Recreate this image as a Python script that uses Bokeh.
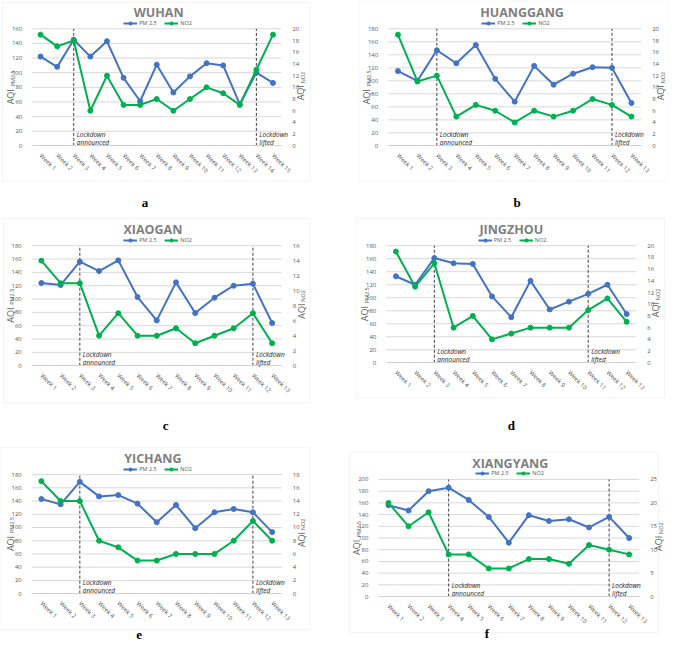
import math
from bokeh.plotting import figure
from bokeh.models import (Range1d, LinearAxis, FixedTicker, Label, Legend,
                          LegendItem, BoxAnnotation)
from bokeh.layouts import column, row
from bokeh.embed import file_html
from bokeh.resources import INLINE

# ---------------- data ----------------
cities = ["WUHAN", "HUANGGANG", "XIAOGAN", "JINGZHOU", "YICHANG", "XIANGYANG"]
panel_letters = ["a", "b", "c", "d", "e", "f"]
series_names = ["PM 2.5", "NO2"]

wuhan_pm25 = [122, 108, 145, 122, 143, 93, 61, 111, 73, 95, 113, 110, 57, 100, 86]
wuhan_no2 = [19, 17, 18, 6, 12, 7, 7, 8, 6, 8, 10, 9, 7, 13, 19]
huanggang_pm25 = [115, 100, 147, 127, 155, 103, 68, 123, 94, 111, 121, 120, 66]
huanggang_no2 = [19, 11, 12, 5, 7, 6, 4, 6, 5, 6, 8, 7, 5]
xiaogan_pm25 = [124, 121, 156, 142, 158, 103, 68, 125, 79, 102, 120, 123, 64]
xiaogan_no2 = [14, 11, 11, 4, 7, 4, 4, 5, 3, 4, 5, 7, 3]
jingzhou_pm25 = [133, 120, 161, 153, 152, 102, 70, 126, 82, 94, 106, 120, 75]
jingzhou_no2 = [19, 13, 17, 6, 8, 4, 5, 6, 6, 6, 9, 11, 7]
yichang_pm25 = [143, 135, 169, 147, 149, 136, 108, 134, 99, 123, 128, 123, 93]
yichang_no2 = [17, 14, 14, 8, 7, 5, 5, 6, 6, 6, 8, 11, 8]
xiangyang_pm25 = [156, 147, 180, 186, 165, 136, 92, 139, 129, 132, 118, 136, 100]
xiangyang_no2 = [20, 15, 18, 9, 9, 6, 6, 8, 8, 7, 11, 10, 9]

pm25_series = [wuhan_pm25, huanggang_pm25, xiaogan_pm25, jingzhou_pm25, yichang_pm25, xiangyang_pm25]
no2_series = [wuhan_no2, huanggang_no2, xiaogan_no2, jingzhou_no2, yichang_no2, xiangyang_no2]

left_max = [160, 180, 180, 180, 180, 200]
left_step = [20, 20, 20, 20, 20, 20]
right_max = [20, 20, 16, 20, 18, 25]
right_step = [2, 2, 2, 2, 2, 5]
lockdown_announced_week = [3, 3, 3, 3, 3, 4]
lockdown_lifted_week = [14, 12, 12, 11, 12, 12]

# ---------------- layout (reference pixels) ----------------
SX = 668 / 684
SY = 645 / 661
ROW_TOP = [0, 218, 448]
ROW_H = [213, 224, 208]
COL_LEFT = [0, 342]
FIG_W = 334
BOX = [(2, 2, 317, 185), (367, 0, 684, 185), (3, 223, 317, 412),
       (364, 223, 680, 407), (0, 458, 317, 645), (357, 463, 674, 648)]
FRAME = [(32.5, 29, 287.5, 149), (397, 29, 656, 149), (32, 251, 288, 374),
         (395, 251, 651, 371), (32, 486, 288, 608), (387, 491, 654, 611)]
TITLE_CX = [162, 534, 156, 523, 156, 522]
LETTER_POS = [(148, 207), (529, 207), (169, 435), (523, 435), (142, 650), (498, 649)]

# ---------------- style ----------------
BLUE = "#4472C4"
GREEN = "#00B050"
GRID = "#D9D9D9"
TICK = "#595959"
FONT = "Open Sans"


def style_axis(ax, standoff):
    ax.major_label_text_font = FONT
    ax.major_label_text_font_size = "6px"
    ax.major_label_text_color = TICK
    ax.major_label_standoff = standoff
    ax.major_tick_line_color = None
    ax.minor_tick_line_color = None


def make_panel(i):
    r, c = i // 2, i % 2
    ox, oy = COL_LEFT[c], ROW_TOP[r]
    W, H = FIG_W, ROW_H[r]

    def cx(x):
        return (x - ox) * SX

    def cy(y):
        return (y - oy) * SY

    pm = pm25_series[i]
    no2 = no2_series[i]
    n = len(pm)
    weeks = list(range(1, n + 1))
    week_labels = ["Week %d" % w for w in weeks]

    fl, ft, fr, fb = cx(FRAME[i][0]), cy(FRAME[i][1]), cx(FRAME[i][2]), cy(FRAME[i][3])
    u = n / (fr - fl)
    x0, x1 = 0.5 - fl * u, 0.5 + (W - fl) * u
    v = left_max[i] / (fb - ft)
    y0, y1 = -(H - fb) * v, left_max[i] + ft * v
    v2 = right_max[i] / (fb - ft)
    r0, r1 = -(H - fb) * v2, right_max[i] + ft * v2

    def dx(px):
        return x0 + px * u

    def dy(py):
        return y1 - py * v

    p = figure(width=W, height=H, title=None, tools="",
               x_range=Range1d(x0, x1), y_range=Range1d(y0, y1),
               output_backend="svg", toolbar_location=None, min_border=0,
               outline_line_color=None, background_fill_color="white",
               border_fill_color="white")
    p.extra_y_ranges = {"no2": Range1d(r0, r1)}
    p.xgrid.visible = False
    p.ygrid.visible = False

    xa = p.xaxis[0]
    xa.fixed_location = 0
    xa.bounds = (0.5, n + 0.5)
    xa.ticker = FixedTicker(ticks=weeks)
    xa.major_label_overrides = {w: lbl for w, lbl in zip(weeks, week_labels)}
    xa.major_label_orientation = -math.pi / 4
    xa.axis_line_color = "#D0D0D0"
    style_axis(xa, 3)

    lticks = list(range(0, left_max[i] + 1, left_step[i]))
    ya = p.yaxis[0]
    ya.fixed_location = 0.5
    ya.ticker = FixedTicker(ticks=lticks)
    ya.axis_line_color = None
    style_axis(ya, 4)

    yr = LinearAxis(y_range_name="no2", fixed_location=n + 0.5,
                    ticker=FixedTicker(ticks=list(range(0, right_max[i] + 1, right_step[i]))))
    yr.axis_line_color = None
    style_axis(yr, 5)
    p.add_layout(yr, "right")

    # chart border
    bx0, by0, bx1, by1 = BOX[i]
    p.add_layout(BoxAnnotation(left=dx(max(cx(bx0), 0.5)), right=dx(min(cx(bx1), W - 0.5)),
                               top=dy(max(cy(by0), 0.5)), bottom=dy(min(cy(by1), H - 0.5)),
                               fill_color=None, fill_alpha=0, line_color="#D9D9D9",
                               line_width=1, level="underlay"))

    # gridlines (plot area only)
    gl = [t for t in lticks if t > 0]
    p.segment(x0=[0.5] * len(gl), y0=gl, x1=[n + 0.5] * len(gl), y1=gl,
              line_color=GRID, line_width=1)

    # lockdown markers
    events = [lockdown_announced_week[i], lockdown_lifted_week[i]]
    p.segment(x0=events, y0=[0, 0], x1=events, y1=[left_max[i]] * 2,
              line_color="#404040", line_dash="3 2", line_width=1)

    l1 = p.line(weeks, pm, line_color=BLUE, line_width=2)
    c1 = p.scatter(weeks, pm, size=5, fill_color=BLUE, line_color=BLUE)
    l2 = p.line(weeks, no2, line_color=GREEN, line_width=2, y_range_name="no2")
    c2 = p.scatter(weeks, no2, size=5, fill_color=GREEN, line_color=GREEN,
                   y_range_name="no2")

    def note(wk, txt, off):
        p.add_layout(Label(x=wk, y=dy(fb - off), x_offset=3, text=txt,
                           text_font=FONT, text_font_style="italic",
                           text_font_size="6.5px", text_color="#262626",
                           text_baseline="middle"))

    note(events[0], "Lockdown", 11)
    note(events[0], "announced", 3.5)
    note(events[1], "Lockdown", 11)
    note(events[1], "lifted", 3.5)

    # chart title
    p.add_layout(Label(x=dx(cx(TITLE_CX[i])), y=dy(ft - 16), text=cities[i],
                       text_font=FONT, text_font_style="bold",
                       text_font_size="12.5px", text_color="#7F7F7F",
                       text_align="center", text_baseline="middle"))

    # axis titles  AQI_PM2.5 (left) and AQI_NO2 (right)
    mid = (ft + fb) / 2

    def axis_title(xpx, main_start, sub, sub_start):
        p.add_layout(Label(x=dx(xpx), y=dy(mid + main_start), angle=math.pi / 2,
                           text="AQI", text_font=FONT, text_font_size="9px",
                           text_color=TICK, text_align="left", text_baseline="middle"))
        p.add_layout(Label(x=dx(xpx + 2), y=dy(mid + sub_start), angle=math.pi / 2,
                           text=sub, text_font=FONT, text_font_size="5.5px",
                           text_color=TICK, text_align="left", text_baseline="middle"))

    axis_title(fl - 21.5, 17, "PM2.5", -1)
    axis_title(fr + 19.5, 13, "NO2", -4)

    # legend
    lcx = (fl + fr) / 2
    legend = Legend(items=[LegendItem(label=series_names[0], renderers=[l1, c1]),
                           LegendItem(label=series_names[1], renderers=[l2, c2])],
                    orientation="horizontal", location=(lcx - 33, H - (ft - 1.5)),
                    label_text_font=FONT, label_text_font_size="5.5px",
                    label_text_color=TICK, glyph_width=14, glyph_height=8,
                    label_height=8, label_standoff=2, spacing=5, padding=0,
                    margin=0, border_line_color=None, background_fill_alpha=0)
    p.add_layout(legend)

    # panel letter
    lx, ly = LETTER_POS[i]
    p.add_layout(Label(x=dx(cx(lx)), y=dy(cy(ly)), text=panel_letters[i],
                       text_font="Liberation Serif", text_font_style="bold",
                       text_font_size="13px", text_color="#000000",
                       text_align="center", text_baseline="middle"))
    return p


panels = [make_panel(i) for i in range(6)]
layout = column(row(panels[0], panels[1]), row(panels[2], panels[3]),
                row(panels[4], panels[5]))

open("out.html", "w").write(file_html(layout, INLINE))
